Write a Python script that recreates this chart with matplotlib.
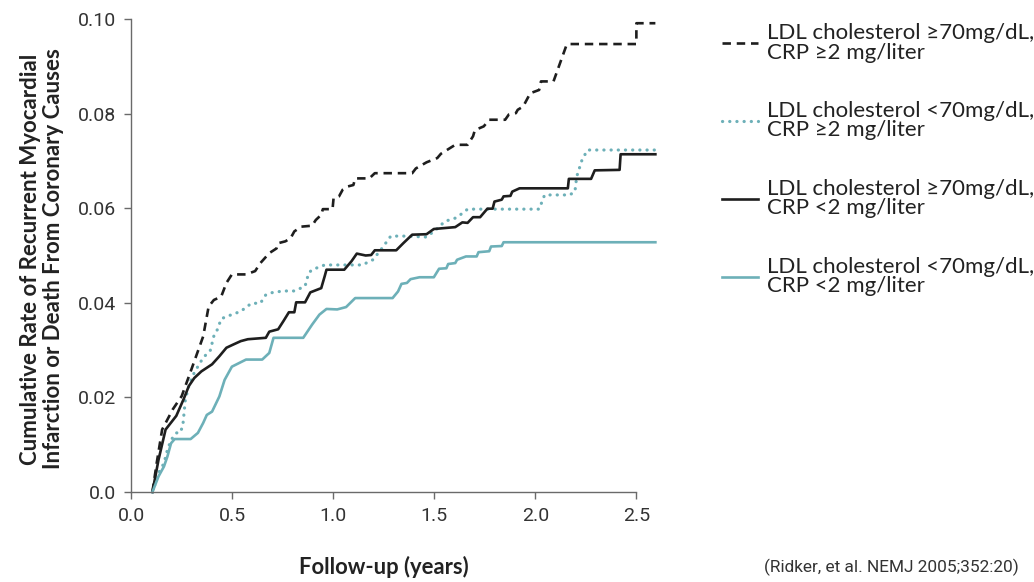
import matplotlib
matplotlib.use("Agg")
import matplotlib.pyplot as plt

hi_ldl_hi_crp_x = [0.106, 0.127, 0.154, 0.207, 0.251, 0.286, 0.322, 0.357, 0.384, 0.410, 0.446, 0.472, 0.499,
                   0.569, 0.614, 0.640, 0.684, 0.720, 0.728, 0.764, 0.790, 0.808, 0.843, 0.896, 0.914, 0.941,
                   0.949, 0.997, 1.002, 1.029, 1.047, 1.073, 1.100, 1.109, 1.179, 1.206, 1.391, 1.409, 1.462,
                   1.515, 1.533, 1.604, 1.665, 1.692, 1.701, 1.745, 1.772, 1.851, 1.869, 1.904, 1.913, 1.940,
                   1.975, 2.019, 2.028, 2.090, 2.152, 2.161, 2.500, 2.500, 2.594]
hi_ldl_hi_crp_y = [0.0, 0.0061, 0.0132, 0.0175, 0.0203, 0.0244, 0.0287, 0.0329, 0.0392, 0.0406, 0.0413, 0.0442,
                   0.0460, 0.0460, 0.0467, 0.0484, 0.0505, 0.0515, 0.0526, 0.0530, 0.0537, 0.0551, 0.0561,
                   0.0563, 0.0575, 0.0586, 0.0598, 0.0598, 0.0621, 0.0625, 0.0639, 0.0646, 0.0649, 0.0663,
                   0.0663, 0.0674, 0.0674, 0.0684, 0.0697, 0.0706, 0.0715, 0.0734, 0.0734, 0.0752, 0.0765,
                   0.0773, 0.0787, 0.0787, 0.0798, 0.0801, 0.0808, 0.0815, 0.0843, 0.0850, 0.0868, 0.0868,
                   0.0942, 0.0947, 0.0947, 0.0991, 0.0991]

lo_ldl_hi_crp_x = [0.106, 0.136, 0.163, 0.180, 0.198, 0.224, 0.242, 0.256, 0.269, 0.286, 0.304, 0.322, 0.357,
                   0.392, 0.410, 0.428, 0.446, 0.472, 0.499, 0.543, 0.596, 0.640, 0.667, 0.702, 0.755, 0.808,
                   0.861, 0.879, 0.896, 0.958, 1.073, 1.144, 1.197, 1.241, 1.285, 1.356, 1.462, 1.498, 1.524,
                   1.551, 1.604, 1.639, 1.665, 2.019, 2.046, 2.170, 2.196, 2.205, 2.231, 2.258, 2.594]
lo_ldl_hi_crp_y = [0.0, 0.0040, 0.0061, 0.0089, 0.0110, 0.0125, 0.0125, 0.0139, 0.0196, 0.0224, 0.0245, 0.0259,
                   0.0284, 0.0299, 0.0330, 0.0344, 0.0366, 0.0371, 0.0375, 0.0382, 0.0399, 0.0399, 0.0417,
                   0.0422, 0.0425, 0.0425, 0.0435, 0.0463, 0.0470, 0.0480, 0.0480, 0.0480, 0.0491, 0.0515,
                   0.0541, 0.0541, 0.0539, 0.0551, 0.0560, 0.0572, 0.0579, 0.0589, 0.0598, 0.0598, 0.0628,
                   0.0628, 0.0635, 0.0667, 0.0702, 0.0723, 0.0723]

hi_ldl_lo_crp_x = [0.106, 0.136, 0.171, 0.224, 0.260, 0.286, 0.313, 0.348, 0.401, 0.437, 0.472, 0.507, 0.543,
                   0.578, 0.667, 0.684, 0.728, 0.755, 0.781, 0.808, 0.817, 0.861, 0.887, 0.941, 0.958, 0.967,
                   1.055, 1.091, 1.117, 1.161, 1.188, 1.206, 1.312, 1.347, 1.391, 1.462, 1.498, 1.604, 1.639,
                   1.665, 1.692, 1.727, 1.763, 1.789, 1.798, 1.834, 1.843, 1.877, 1.886, 1.922, 2.161, 2.166,
                   2.276, 2.294, 2.417, 2.422, 2.594]
hi_ldl_lo_crp_y = [0.0, 0.0068, 0.0132, 0.0161, 0.0196, 0.0224, 0.0241, 0.0255, 0.0270, 0.0287, 0.0305, 0.0312,
                   0.0319, 0.0323, 0.0326, 0.0339, 0.0344, 0.0362, 0.0380, 0.0380, 0.0401, 0.0401, 0.0422,
                   0.0431, 0.0456, 0.0470, 0.0470, 0.0488, 0.0504, 0.0500, 0.0501, 0.0511, 0.0511, 0.0526,
                   0.0544, 0.0545, 0.0556, 0.0560, 0.0570, 0.0569, 0.0581, 0.0581, 0.0599, 0.0599, 0.0614,
                   0.0618, 0.0625, 0.0626, 0.0635, 0.0642, 0.0642, 0.0662, 0.0662, 0.0680, 0.0681, 0.0714,
                   0.0714]

lo_ldl_lo_crp_x = [0.106, 0.136, 0.163, 0.180, 0.198, 0.216, 0.295, 0.331, 0.357, 0.375, 0.401, 0.437, 0.463,
                   0.499, 0.569, 0.649, 0.684, 0.705, 0.852, 0.896, 0.932, 0.967, 1.020, 1.064, 1.109, 1.294,
                   1.321, 1.338, 1.365, 1.383, 1.427, 1.498, 1.524, 1.560, 1.569, 1.604, 1.613, 1.657, 1.710,
                   1.719, 1.772, 1.781, 1.834, 1.843, 2.594]
lo_ldl_lo_crp_y = [0.0, 0.0033, 0.0054, 0.0075, 0.0103, 0.0112, 0.0112, 0.0125, 0.0146, 0.0163, 0.0170, 0.0202,
                   0.0237, 0.0265, 0.0280, 0.0280, 0.0294, 0.0326, 0.0326, 0.0354, 0.0375, 0.0387, 0.0386,
                   0.0391, 0.0410, 0.0410, 0.0424, 0.0440, 0.0442, 0.0450, 0.0454, 0.0454, 0.0472, 0.0473,
                   0.0482, 0.0484, 0.0491, 0.0498, 0.0498, 0.0507, 0.0509, 0.0519, 0.0520, 0.0528, 0.0528]

labels = ["LDL cholesterol \u226570mg/dL,\nCRP \u22652 mg/liter",
          "LDL cholesterol <70mg/dL,\nCRP \u22652 mg/liter",
          "LDL cholesterol \u226570mg/dL,\nCRP <2 mg/liter",
          "LDL cholesterol <70mg/dL,\nCRP <2 mg/liter"]
x_ticks = [0.0, 0.5, 1.0, 1.5, 2.0, 2.5]
y_ticks = [0.0, 0.02, 0.04, 0.06, 0.08, 0.10]
y_tick_labels = ["0.0", "0.02", "0.04", "0.06", "0.08", "0.10"]

black = '#1e1e1e'
teal = '#6db0b8'
grey = '#6a6a6a'
tick_font = ['Roboto', 'DejaVu Sans']

fig = plt.figure(figsize=(10.34, 5.82), dpi=100)
ax = fig.add_axes([0.1267, 0.1546, 0.5083, 0.8128])

ax.plot(hi_ldl_hi_crp_x, hi_ldl_hi_crp_y, color=black, lw=1.9, linestyle=(0, (3.2, 2.2)), label=labels[0],
        clip_on=False)
ax.plot(lo_ldl_hi_crp_x, lo_ldl_hi_crp_y, color=teal, lw=2.3, linestyle=(0, (0.05, 2.2)),
        dash_capstyle='round', label=labels[1], clip_on=False)
ax.plot(hi_ldl_lo_crp_x, hi_ldl_lo_crp_y, color=black, lw=1.9, label=labels[2], clip_on=False)
ax.plot(lo_ldl_lo_crp_x, lo_ldl_lo_crp_y, color=teal, lw=1.9, label=labels[3], clip_on=False)

ax.set_xlim(0, 2.6)
ax.set_ylim(0, 0.10)
ax.set_xticks(x_ticks)
ax.set_xticklabels(["%.1f" % v for v in x_ticks], family=tick_font, fontsize=14, color='#333333')
ax.set_yticks(y_ticks)
ax.set_yticklabels(y_tick_labels, family=tick_font, fontsize=14, color='#333333')
ax.tick_params(direction='out', length=5, width=1, color=grey, pad=6)
for side in ['top', 'right']:
    ax.spines[side].set_visible(False)
for side in ['left', 'bottom']:
    ax.spines[side].set_color(grey)
    ax.spines[side].set_linewidth(1)
ax.spines['bottom'].set_bounds(0, 2.5)
ax.spines['left'].set_bounds(0, 0.10)

fig.text(0.0405, 0.555, "Cumulative Rate of Recurrent Myocardial\nInfarction or Death From Coronary Causes",
         rotation=90, ha='center', va='center', family='Lato', fontweight='bold', fontsize=16,
         color='#222222', linespacing=1.12)
fig.text(0.371, 0.026, "Follow-up (years)", ha='center', va='center', family='Lato', fontweight='bold',
         fontsize=15.8, color='#222222')
fig.text(0.862, 0.026, "(Ridker, et al. NEMJ 2005;352:20)", ha='center', va='center', family=tick_font,
         fontsize=12.4, color='#333333')

leg = fig.legend(loc='upper left', bbox_to_anchor=(0.679, 0.995), frameon=False, handlelength=1.62,
                 handletextpad=0.4, labelspacing=1.72, prop={'family': 'Lato', 'size': 16},
                 labelcolor='#222222')
for t in leg.get_texts():
    t.set_linespacing(0.98)

fig.savefig('out.png', dpi=100)
